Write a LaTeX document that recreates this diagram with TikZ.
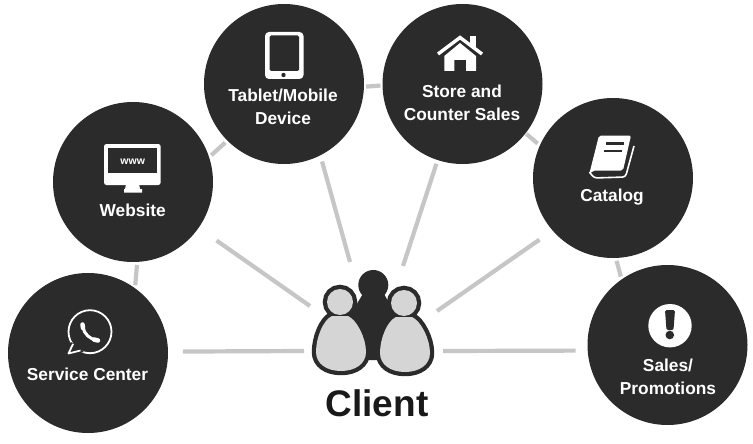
\documentclass[tikz,border=0pt]{standalone}
\usepackage{fontspec}
\setmainfont{Liberation Sans}
\definecolor{hubdark}{HTML}{2B2B2B}
\definecolor{linkgray}{HTML}{C6C6C6}
\definecolor{bodygray}{HTML}{D5D5D5}
\def\bodypath{(-8,14) .. controls (-17,18) and (-24,36) .. (-24,50) .. controls (-24,62) and (-13,69) .. (1,69) .. controls (15,69) and (26,62) .. (26,50) .. controls (26,36) and (17,18) .. (8,14) -- cycle}
\tikzset{
	hub/.style={circle,fill=hubdark,inner sep=0pt,outer sep=0pt,minimum size=160pt},
	hubtext/.style={text=white,align=center,font=\fontsize{17.3}{23}\selectfont\bfseries},
	link/.style={draw=linkgray,line width=4.2pt},
	person/.pic={
		\draw[hubdark,line width=8.5pt] (0,0) circle (13pt);
		\draw[hubdark,line width=8.5pt,line join=round] \bodypath;
		\fill[bodygray] (0,0) circle (13pt);
		\fill[bodygray] \bodypath;
	}
}
\begin{document}
\begin{tikzpicture}[x=1pt,y=-1pt]
	\useasboundingbox (0,0) rectangle (753,444);
	\node[hub] (service) at (88,353) {};
	\node[hub] (website) at (133,182) {};
	\node[hub] (tablet) at (284,84) {};
	\node[hub] (store) at (462.5,84) {};
	\node[hub] (catalog) at (613,178) {};
	\node[hub] (sales) at (667.5,345) {};
	\coordinate (toService) at (304,351);
	\coordinate (toWebsite) at (310,306);
	\coordinate (toTablet) at (350,262);
	\coordinate (toStore) at (403,266);
	\coordinate (toCatalog) at (437,311);
	\coordinate (toSales) at (443,351);
	\draw[link,shorten <=15pt] (service.1) -- (toService);
	\draw[link,shorten <=22pt] (website) -- (toWebsite);
	\draw[link,shorten <=6.5pt] (tablet.-63) -- (toTablet);
	\draw[link,shorten <=4pt] (store) -- (toStore);
	\draw[link,shorten <=16pt] (catalog.221.5) -- (toCatalog);
	\draw[link,shorten <=12pt] (sales.184) -- (toSales);
	\draw[link,shorten >=3pt,shorten <=3pt] (service.54) -- (website.-87);
	\draw[link,shorten >=3pt,shorten <=3pt] (website.18) -- (tablet.225.5);
	\draw[link,shorten >=2pt,shorten <=2pt] (tablet.-2) -- (store.181.5);
	\draw[link,shorten >=3pt,shorten <=1pt] (store.-38.4) -- (catalog.156.3);
	\draw[link,shorten >=3pt,shorten <=3pt] (catalog.-88.5) -- (sales.125.6);
	\node[hubtext] (serviceText) at (87.5,374) {Service Center};
	\node[hubtext] (websiteText) at (132.7,210) {Website};
	\node[hubtext] (tabletText) at (283,106.5) {Tablet/Mobile\\Device};
	\node[hubtext] (storeText) at (462,103) {Store and\\Counter Sales};
	\node[hubtext] (catalogText) at (612,197) {Catalog};
	\node[hubtext] (salesText) at (668,376.5) {Sales/\\Promotions};
	% tablet
	\fill[white,rounded corners=4pt] (265,32) rectangle (303.5,79);
	\fill[hubdark,rounded corners=1.5pt] (269.5,35.5) rectangle (299,71);
	\fill[hubdark] (283.5,75) circle (2.2pt);
	% monitor
	\fill[white,rounded corners=2.5pt] (104,144) rectangle (160.7,185);
	\fill[hubdark] (108,148) rectangle (157,173);
	\fill[white] (126,184) -- (139,184) -- (140,189) -- (142,189) -- (142,192.5) -- (124,192.5) -- (124,189) -- (125,189) -- cycle;
	\node[text=white,font=\fontsize{10.5}{10.5}\selectfont\bfseries,inner sep=0pt] (wwwText) at (132.7,161.5) {www};
	% house
	\draw[white,line width=3.4pt] (438,54) -- (460,37.5) -- (482,54);
	\fill[white] (470,36) rectangle (476,47);
	\fill[white] (460,43) -- (444.3,56) -- (444.3,71) -- (454.3,71) -- (454.3,60) -- (466,60) -- (466,71) -- (476,71) -- (476,56) -- cycle;
	% book
	\fill[white,rounded corners=2pt] (599,135.5) -- (631,135.5) -- (623,170.5) -- (593,170.5) -- (589,175) -- cycle;
	\draw[white,line width=1.6pt,rounded corners=3pt] (634,146) -- (625.5,177) -- (594,178) -- (589.5,172);
	\draw[hubdark,line width=2.4pt] (606,143.5) -- (624,143.5);
	\draw[hubdark,line width=2.4pt] (603.5,151) -- (622,151);
	% phone bubble
	\draw[white,line width=1.8pt] (90,331.7) circle (21.5pt);
	\fill[hubdark] (71,342) -- (66,356) -- (84,352) -- cycle;
	\draw[white,line width=1.8pt,line join=round] (73,344) -- (68.5,353.5) -- (80.5,350.5);
	\draw[white,line width=3pt,line cap=round] (83,327) .. controls (84,334) and (90,339.5) .. (97,340);
	\draw[white,line width=4.5pt,line cap=round] (82.5,324.5) -- (83,328);
	\draw[white,line width=4.5pt,line cap=round] (94,339.5) -- (98,340.5);
	% exclamation
	\fill[white] (670,325.7) circle (21.7pt);
	\fill[hubdark,rounded corners=1.5pt] (665,310) -- (675,310) -- (673.5,330) -- (666.5,330) -- cycle;
	\fill[hubdark] (669.8,335) circle (4.3pt);
	% client
	\fill[hubdark] (373.3,285) circle (15pt);
	\fill[hubdark] (364,292) -- (383,292) -- (394,312) -- (394,360) -- (352,360) -- (352,312) -- cycle;
	\pic at (340,302) {person};
	\pic at (404,303) {person};
	\node[font=\fontsize{37}{37}\selectfont\bfseries,text=black!90,inner sep=0pt] (clientText) at (377,403) {Client};
\end{tikzpicture}
\end{document}
